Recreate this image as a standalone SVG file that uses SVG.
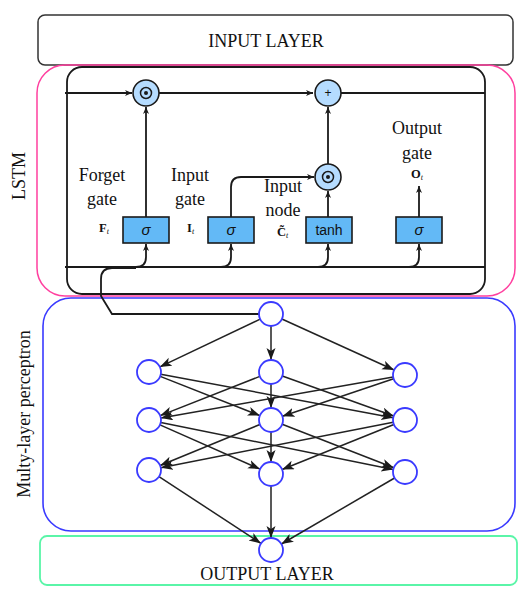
<svg xmlns="http://www.w3.org/2000/svg" width="529" height="605" viewBox="0 0 529 605">
<defs>
<style>
.serif{font-family:"Liberation Serif","Times New Roman",serif;fill:#111}
.lbl{font-size:18px;text-anchor:middle}
.sans{font-family:"Liberation Sans",Arial,sans-serif;fill:#111}
.ln{fill:none;stroke:#1a1a1a;stroke-width:1.8}
.mln{fill:none;stroke:#222;stroke-width:1.5}
.gate{fill:#63b9f6;stroke:#1a1a1a;stroke-width:1.6}
.op{fill:#b5dcff;stroke:#1a1a1a;stroke-width:1.6}
.node{fill:#fff;stroke:#3a3aff;stroke-width:1.8}
</style>
<marker id="sa" markerUnits="userSpaceOnUse" markerWidth="8" markerHeight="8" refX="7" refY="3" orient="auto"><path d="M0,0 L7,3 L0,6 L2,3 z" fill="#1a1a1a"/></marker>
<marker id="ma" markerUnits="userSpaceOnUse" markerWidth="13" markerHeight="10" refX="12" refY="4.5" orient="auto"><path d="M0,0 L12,4.5 L0,9 L3,4.5 z" fill="#1a1a1a"/></marker>
</defs>

<g id="input-layer">
<rect x="38" y="15" width="475" height="50" rx="7" fill="#fff" stroke="#333" stroke-width="1.5"/>
<text class="serif lbl" x="266" y="47">INPUT LAYER</text>
</g>

<g id="lstm">
<rect x="37" y="65" width="478" height="231" rx="28" fill="none" stroke="#ff3f9f" stroke-width="1.5"/>
<text class="serif lbl" transform="rotate(-90 25 176)" x="25" y="176">LSTM</text>
<rect x="67" y="67" width="418" height="227" rx="15" fill="none" stroke="#1a1a1a" stroke-width="1.8"/>
</g>

<g id="mlp-frame">
<rect x="43" y="298" width="472" height="233" rx="28" fill="none" stroke="#3a3aff" stroke-width="1.6"/>
<text class="serif lbl" transform="rotate(-90 30 414)" x="30" y="414">Multy-layer perceptron</text>
</g>

<g id="output-layer">
<rect x="40" y="536" width="477" height="49" rx="7" fill="none" stroke="#5af5a8" stroke-width="1.8"/>
<text class="serif lbl" x="267" y="580">OUTPUT LAYER</text>
</g>

<g id="connectors">
<path class="ln" d="M65 93 L132 93" marker-end="url(#sa)"/>
<path class="ln" d="M159 93 L313 93" marker-end="url(#sa)"/>
<path class="ln" d="M341 93 L485 93"/>
<path class="ln" d="M146 217 L146 107" marker-end="url(#sa)"/>
<path class="ln" d="M328 217 L328 191" marker-end="url(#sa)"/>
<path class="ln" d="M328 164 L328 107" marker-end="url(#sa)"/>
<path class="ln" d="M231 217 L231 187 Q231 177 241 177 L314 177" marker-end="url(#sa)"/>
<path class="ln" d="M419 217 L419 186" marker-end="url(#sa)"/>
<path class="ln" d="M65 267 L485 267"/>
<path class="ln" d="M136 267 Q146 267 146 257 L146 244" marker-end="url(#sa)"/>
<path class="ln" d="M221 267 Q231 267 231 257 L231 244" marker-end="url(#sa)"/>
<path class="ln" d="M318 267 Q328 267 328 257 L328 244" marker-end="url(#sa)"/>
<path class="ln" d="M409 267 Q419 267 419 257 L419 244" marker-end="url(#sa)"/>
<path class="ln" d="M259 314 L112 314 L101 296 L101 279 Q101 268 112 268 L136 268"/>

<g marker-end="url(#ma)">
<path class="mln" d="M260.2 319.1 L159.8 366.9"/>
<path class="mln" d="M271 326 L271 360"/>
<path class="mln" d="M281.9 319 L394.1 370"/>

<path class="mln" d="M160.2 376.4 L259.8 415.6"/>
<path class="mln" d="M160.8 374.2 L393.2 417.8"/>
<path class="mln" d="M259.8 376.4 L160.2 415.6"/>
<path class="mln" d="M271 384 L271 408"/>
<path class="mln" d="M282.3 376 L393.7 416"/>
<path class="mln" d="M393.2 377.1 L160.8 417.9"/>
<path class="mln" d="M393.6 378.8 L282.4 416.2"/>

<path class="mln" d="M160 424.9 L260 469.1"/>
<path class="mln" d="M160.8 422.4 L393.2 469.6"/>
<path class="mln" d="M259.9 424.5 L160.1 465.5"/>
<path class="mln" d="M271 432 L271 462"/>
<path class="mln" d="M282.2 424.3 L393.8 467.7"/>
<path class="mln" d="M393.2 422.3 L160.8 467.7"/>
<path class="mln" d="M393.9 424.5 L282.1 469.5"/>

<path class="mln" d="M159 476.6 L261 543.4"/>
<path class="mln" d="M271 486 L271 538"/>
<path class="mln" d="M394.6 478 L281.4 544"/>
</g>
</g>

<g id="mult-forget">
<circle class="op" cx="146" cy="93" r="13"/>
<circle cx="146" cy="93" r="5.5" fill="none" stroke="#1a1a1a" stroke-width="1.5"/>
<circle cx="146" cy="93" r="2" fill="#1a1a1a"/>
</g>
<g id="add-cell">
<circle class="op" cx="328" cy="93" r="13"/>
<text class="sans" x="328" y="97" font-size="12" text-anchor="middle">+</text>
</g>
<g id="mult-input">
<circle class="op" cx="328" cy="177" r="13"/>
<circle cx="328" cy="177" r="5.5" fill="none" stroke="#1a1a1a" stroke-width="1.5"/>
<circle cx="328" cy="177" r="2" fill="#1a1a1a"/>
</g>

<g id="forget-gate">
<rect class="gate" x="123" y="217" width="46" height="26"/>
<text class="sans" x="146" y="235" font-size="15" font-style="italic" text-anchor="middle">σ</text>
<text class="serif lbl" x="102" y="181">Forget</text>
<text class="serif lbl" x="102" y="205">gate</text>
<text class="serif" x="99" y="232" font-size="12.5" font-weight="bold">F<tspan font-size="8" font-weight="normal" font-style="italic" dy="2">t</tspan></text>
</g>

<g id="input-gate">
<rect class="gate" x="208" y="217" width="46" height="26"/>
<text class="sans" x="231" y="235" font-size="15" font-style="italic" text-anchor="middle">σ</text>
<text class="serif lbl" x="190" y="181">Input</text>
<text class="serif lbl" x="190" y="205">gate</text>
<text class="serif" x="187" y="232" font-size="12.5" font-weight="bold">I<tspan font-size="8" font-weight="normal" font-style="italic" dy="2">t</tspan></text>
</g>

<g id="input-node">
<rect class="gate" x="306" y="217" width="46" height="26"/>
<text class="sans" x="329" y="235" font-size="14" text-anchor="middle">tanh</text>
<text class="serif lbl" x="283" y="192">Input</text>
<text class="serif lbl" x="283" y="216">node</text>
<text class="serif" x="277" y="236" font-size="12.5" font-weight="bold">C&#x303;<tspan font-size="8" font-weight="normal" font-style="italic" dy="2">t</tspan></text>
</g>

<g id="output-gate">
<rect class="gate" x="396" y="217" width="46" height="26"/>
<text class="sans" x="419" y="235" font-size="15" font-style="italic" text-anchor="middle">σ</text>
<text class="serif lbl" x="417" y="134">Output</text>
<text class="serif lbl" x="417" y="159">gate</text>
<text class="serif" x="411" y="178" font-size="12.5" font-weight="bold">O<tspan font-size="8" font-weight="normal" font-style="italic" dy="2">t</tspan></text>
</g>

<g id="mlp-in"><circle class="node" cx="271" cy="314" r="12"/></g>
<g id="h1-a"><circle class="node" cx="149" cy="372" r="12"/></g>
<g id="h1-b"><circle class="node" cx="271" cy="372" r="12"/></g>
<g id="h1-c"><circle class="node" cx="405" cy="375" r="12"/></g>
<g id="h2-a"><circle class="node" cx="149" cy="420" r="12"/></g>
<g id="h2-b"><circle class="node" cx="271" cy="420" r="12"/></g>
<g id="h2-c"><circle class="node" cx="405" cy="420" r="12"/></g>
<g id="h3-a"><circle class="node" cx="149" cy="470" r="12"/></g>
<g id="h3-b"><circle class="node" cx="271" cy="474" r="12"/></g>
<g id="h3-c"><circle class="node" cx="405" cy="472" r="12"/></g>
<g id="mlp-out"><circle class="node" cx="271" cy="550" r="12"/></g>
</svg>
